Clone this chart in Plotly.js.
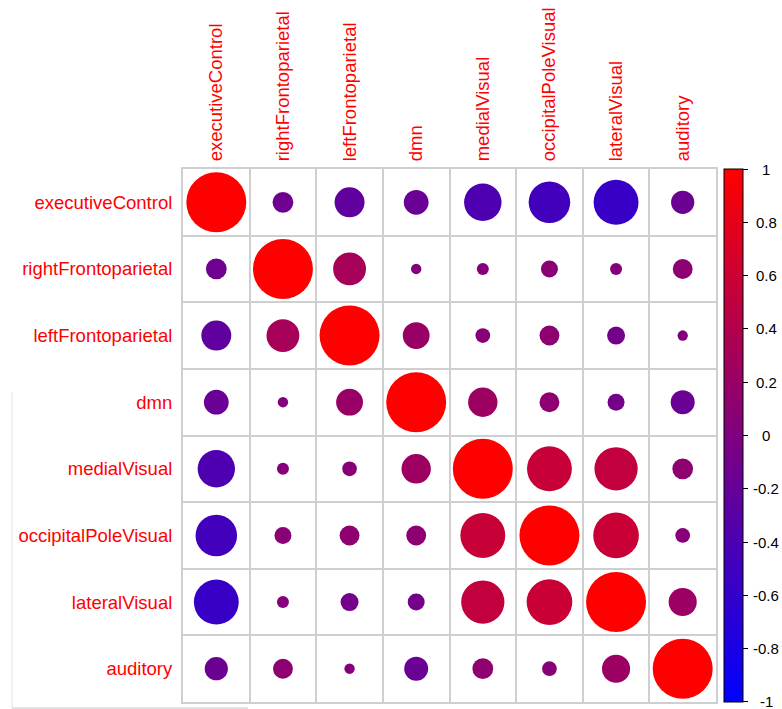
<!DOCTYPE html>
<html>
<head>
<meta charset="utf-8">
<script src="https://cdn.plot.ly/plotly-3.0.1.min.js"></script>
<style>
  html, body { margin: 0; padding: 0; background: #ffffff; }
  #chart { width: 782px; height: 709px; }
</style>
</head>
<body>
<div id="chart"></div>
<script>
// Network names (rows and columns of the correlation matrix)
const networks = [
  "executiveControl", "rightFrontoparietal", "leftFrontoparietal", "dmn",
  "medialVisual", "occipitalPoleVisual", "lateralVisual", "auditory"
];

// Correlation matrix, one row per network
const executiveControl    = [ 1.00, -0.12, -0.25, -0.17, -0.39, -0.48, -0.56, -0.15];
const rightFrontoparietal = [-0.12,  1.00,  0.30,  0.03,  0.04,  0.08,  0.04,  0.11];
const leftFrontoparietal  = [-0.25,  0.30,  1.00,  0.20,  0.06,  0.11, -0.09,  0.03];
const dmn                 = [-0.17,  0.03,  0.20,  1.00,  0.24,  0.11, -0.08, -0.16];
const medialVisual        = [-0.39,  0.04,  0.06,  0.24,  1.00,  0.56,  0.52,  0.12];
const occipitalPoleVisual = [-0.48,  0.08,  0.11,  0.11,  0.56,  1.00,  0.58,  0.06];
const lateralVisual       = [-0.56,  0.04, -0.09, -0.08,  0.52,  0.58,  1.00,  0.22];
const auditory            = [-0.15,  0.11,  0.03, -0.16,  0.12,  0.06,  0.22,  1.00];

const matrix = [executiveControl, rightFrontoparietal, leftFrontoparietal, dmn,
                medialVisual, occipitalPoleVisual, lateralVisual, auditory];

// Colour bar tick values and their labels
const barTicks  = [1, 0.8, 0.6, 0.4, 0.2, 0, -0.2, -0.4, -0.6, -0.8, -1];
const barLabels = ["1", "0.8", "0.6", "0.4", "0.2", "0", "-0.2", "-0.4", "-0.6", "-0.8", "-1"];

// Flatten the matrix into scatter points (column index, row index, value)
const xs = [], ys = [], vals = [];
matrix.forEach((row, i) => {
  row.forEach((v, j) => {
    xs.push(j + 1);
    ys.push(i + 1);
    vals.push(v);
  });
});

const n = networks.length;
const plotPx = 533;                        // plot area is 533 px square
const cellPx = plotPx / n;
const maxDiam = cellPx * 0.9;              // circle for |r| = 1
const sizes = vals.map(v => maxDiam * Math.sqrt(Math.abs(v)));

const idx = networks.map((_, i) => i + 1);
const edges = Array.from({length: n + 1}, (_, i) => i + 0.5);

const cmin = -1.0005, cmax = 1.0005;

const labelFont = { family: "Liberation Sans, Arial, sans-serif", size: 18.5, color: "#ff0000" };
const barFont = { family: "Liberation Sans, Arial, sans-serif", size: 15, color: "#000000" };
const gridColor = "#cfcfcf";

const trace = {
  type: "scatter",
  mode: "markers",
  x: xs,
  y: ys,
  hoverinfo: "skip",
  marker: {
    size: sizes,
    sizemode: "diameter",
    color: vals,
    cmin: cmin,
    cmax: cmax,
    colorscale: [[0, "#0000ff"], [1, "#ff0000"]],
    line: { width: 0 },
    opacity: 1,
    showscale: true,
    colorbar: {
      x: 1.015,
      xanchor: "left",
      xpad: 0,
      y: 0.5,
      yanchor: "middle",
      ypad: 0,
      len: 1,
      lenmode: "fraction",
      thickness: 19,
      thicknessmode: "pixels",
      outlinecolor: "#000000",
      outlinewidth: 1,
      ticks: "outside",
      ticklen: 5,
      tickcolor: "#000000",
      tickvals: barTicks,
      showticklabels: false
    }
  }
};

// Centred colour bar labels, placed on the colour bar's value scale
const barAnnotations = barTicks.map((v, k) => ({
  xref: "paper",
  yref: "paper",
  x: (766 - 183) / plotPx,
  xanchor: "center",
  y: (v - cmin) / (cmax - cmin),
  yanchor: "middle",
  text: barLabels[k],
  showarrow: false,
  font: barFont
}));

const layout = {
  width: 782,
  height: 709,
  margin: { l: 183, r: 66, t: 169, b: 7, pad: 0 },
  paper_bgcolor: "#ffffff",
  plot_bgcolor: "#ffffff",
  showlegend: false,
  xaxis: {
    range: [0.5, n + 0.5],
    side: "top",
    tickmode: "array",
    tickvals: idx,
    ticktext: networks,
    tickangle: -90,
    tickfont: labelFont,
    ticks: "",
    ticklabelstandoff: 2,
    showgrid: false,
    zeroline: false,
    showline: true,
    mirror: true,
    linecolor: gridColor,
    linewidth: 2,
    fixedrange: true,
    minor: { tickmode: "array", tickvals: edges, showgrid: true, gridcolor: gridColor, gridwidth: 2, ticks: "" }
  },
  yaxis: {
    range: [n + 0.5, 0.5],
    tickmode: "array",
    tickvals: idx,
    ticktext: networks,
    tickfont: labelFont,
    ticks: "",
    ticklabelstandoff: 5,
    showgrid: false,
    zeroline: false,
    showline: true,
    mirror: true,
    linecolor: gridColor,
    linewidth: 2,
    fixedrange: true,
    minor: { tickmode: "array", tickvals: edges, showgrid: true, gridcolor: gridColor, gridwidth: 2, ticks: "" }
  },
  annotations: barAnnotations,
  shapes: [
    // faint frame fragment at the lower left of the page
    { type: "line", xref: "paper", yref: "paper", x0: -171 / plotPx, x1: -171 / plotPx, y0: -6 / plotPx, y1: 310 / plotPx,
      line: { color: "#e2e2e2", width: 1 } },
    { type: "line", xref: "paper", yref: "paper", x0: -171 / plotPx, x1: 65 / plotPx, y0: -6 / plotPx, y1: -6 / plotPx,
      line: { color: "#d8d8d8", width: 1.5 } }
  ]
};

Plotly.newPlot("chart", [trace], layout, { displayModeBar: false, staticPlot: true });
</script>
</body>
</html>
